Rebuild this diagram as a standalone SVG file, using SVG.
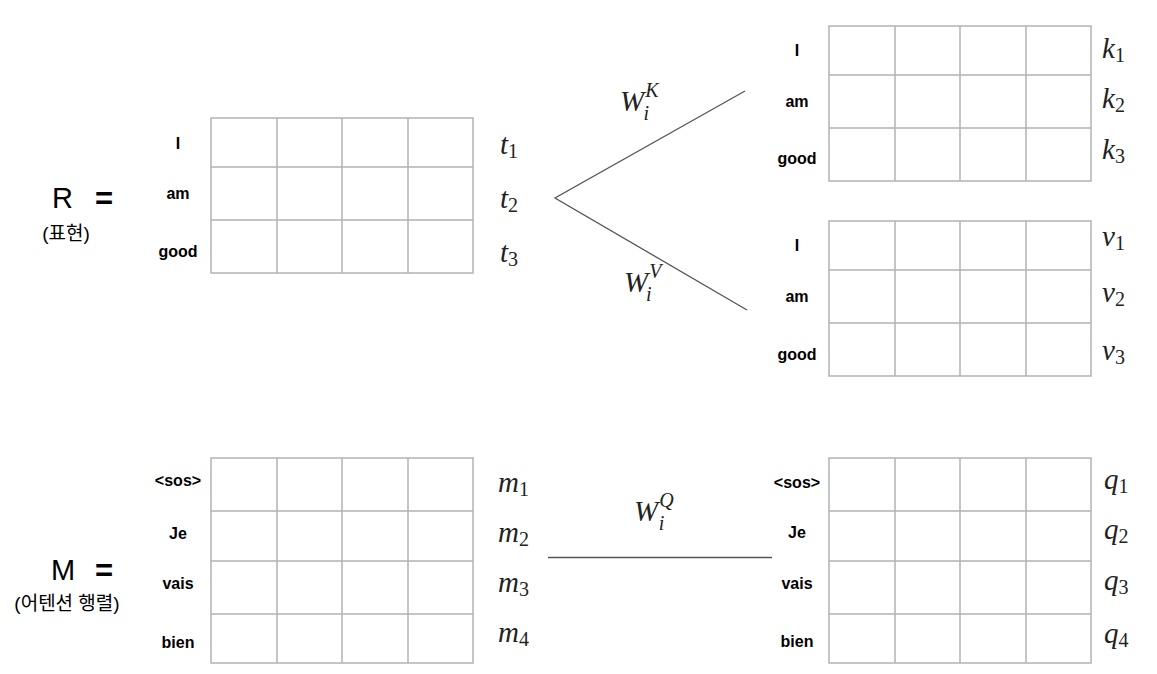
<svg xmlns="http://www.w3.org/2000/svg" width="1157" height="674" viewBox="0 0 1157 674">
<style>
.grid{fill:none;stroke:#b3b3b3;stroke-width:1.5}
.lbl{font-family:"Liberation Sans",Arial,sans-serif;font-weight:bold;font-size:16px;fill:#000;text-anchor:middle}
.big{font-family:"Liberation Sans",Arial,sans-serif;font-size:29px;fill:#000}
.eq{font-family:"Liberation Sans",Arial,sans-serif;font-size:31px;font-weight:bold;fill:#000}
.kor{font-family:"Liberation Sans","Noto Sans CJK KR",sans-serif;font-size:19px;fill:#000;text-anchor:middle}
.m{font-family:"Liberation Serif","Times New Roman",serif;font-style:italic;font-size:29px;fill:#222}
.sub{font-family:"Liberation Serif","Times New Roman",serif;font-style:normal;font-size:20px}
.sup{font-family:"Liberation Serif","Times New Roman",serif;font-style:italic;font-size:20px}
.conn{stroke:#555;stroke-width:1.3;fill:none}
</style>
<defs>
<g id="g3">
<rect class="grid" x="0" y="0" width="262" height="155"/>
<path class="grid" d="M66 0V155M131 0V155M197 0V155M0 49H262M0 102H262"/>
</g>
<g id="g4">
<rect class="grid" x="0" y="0" width="262" height="205"/>
<path class="grid" d="M66 0V205M131 0V205M197 0V205M0 53H262M0 103H262M0 156H262"/>
</g>
</defs>

<g id="connectors">
<polyline class="conn" points="745,91 555,198 747,310"/>
<line class="conn" x1="548" y1="557.5" x2="772" y2="557.5"/>
<text class="m" x="620" y="111">W<tspan class="sup" dx="1" dy="-14">K</tspan><tspan class="sup" dx="-15" dy="23">i</tspan></text>
<text class="m" x="624" y="292">W<tspan class="sup" dx="1" dy="-14">V</tspan><tspan class="sup" dx="-14" dy="23">i</tspan></text>
<text class="m" x="634" y="521">W<tspan class="sup" dx="1" dy="-14">Q</tspan><tspan class="sup" dx="-15" dy="23">i</tspan></text>
</g>

<g id="R">
<text class="big" x="52" y="208">R</text>
<text class="eq" x="95" y="209">=</text>
<text class="kor" x="66" y="240">(표현)</text>
<use href="#g3" x="211" y="118"/>
<text class="lbl" x="178" y="149">I</text>
<text class="lbl" x="178" y="199">am</text>
<text class="lbl" x="178" y="257">good</text>
<text class="m" x="500" y="154">t<tspan class="sub" dy="4">1</tspan></text>
<text class="m" x="500" y="208">t<tspan class="sub" dy="4">2</tspan></text>
<text class="m" x="500" y="262">t<tspan class="sub" dy="4">3</tspan></text>
</g>

<g id="K">
<use href="#g3" x="829" y="26"/>
<text class="lbl" x="797" y="56">I</text>
<text class="lbl" x="797" y="107">am</text>
<text class="lbl" x="797" y="164">good</text>
<text class="m" x="1102" y="58">k<tspan class="sub" dy="4">1</tspan></text>
<text class="m" x="1102" y="108">k<tspan class="sub" dy="4">2</tspan></text>
<text class="m" x="1102" y="159">k<tspan class="sub" dy="4">3</tspan></text>
</g>

<g id="V">
<use href="#g3" x="829" y="221"/>
<text class="lbl" x="797" y="251">I</text>
<text class="lbl" x="797" y="302">am</text>
<text class="lbl" x="797" y="360">good</text>
<text class="m" x="1102" y="246">v<tspan class="sub" dy="4">1</tspan></text>
<text class="m" x="1102" y="302">v<tspan class="sub" dy="4">2</tspan></text>
<text class="m" x="1102" y="360">v<tspan class="sub" dy="4">3</tspan></text>
</g>

<g id="M">
<text class="big" x="51" y="580">M</text>
<text class="eq" x="95" y="581">=</text>
<text class="kor" x="67" y="610">(어텐션 행렬)</text>
<use href="#g4" x="211" y="458"/>
<text class="lbl" x="178" y="486">&lt;sos&gt;</text>
<text class="lbl" x="178" y="539">Je</text>
<text class="lbl" x="178" y="589">vais</text>
<text class="lbl" x="178" y="648">bien</text>
<text class="m" x="498" y="492">m<tspan class="sub" dy="4">1</tspan></text>
<text class="m" x="498" y="542">m<tspan class="sub" dy="4">2</tspan></text>
<text class="m" x="498" y="592">m<tspan class="sub" dy="4">3</tspan></text>
<text class="m" x="498" y="642">m<tspan class="sub" dy="4">4</tspan></text>
</g>

<g id="Q">
<use href="#g4" x="829" y="458"/>
<text class="lbl" x="797" y="488">&lt;sos&gt;</text>
<text class="lbl" x="797" y="538">Je</text>
<text class="lbl" x="797" y="589">vais</text>
<text class="lbl" x="797" y="647">bien</text>
<text class="m" x="1104" y="489">q<tspan class="sub" dy="4">1</tspan></text>
<text class="m" x="1104" y="539">q<tspan class="sub" dy="4">2</tspan></text>
<text class="m" x="1104" y="590">q<tspan class="sub" dy="4">3</tspan></text>
<text class="m" x="1104" y="643">q<tspan class="sub" dy="4">4</tspan></text>
</g>
</svg>
